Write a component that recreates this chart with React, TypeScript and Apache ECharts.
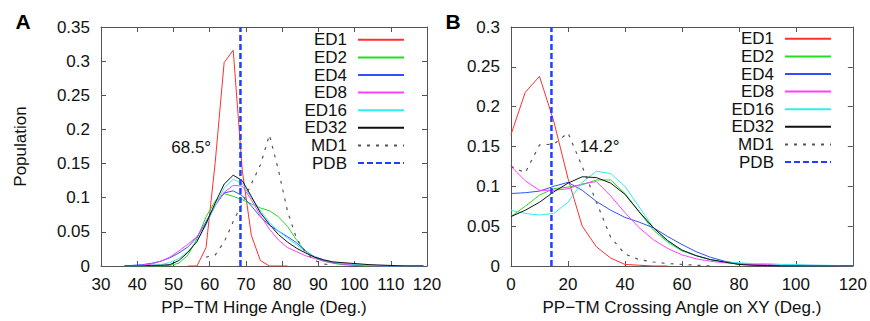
import React, { useEffect, useRef } from "react";
import * as echarts from "echarts";

// ---------- Panel A: PP-TM hinge angle ----------
const anglesA = [36.5, 39, 41.5, 44, 46.5, 49, 51.5, 54, 56.5, 59, 61.5, 64, 66.5, 69, 71.5, 74, 76.5, 79, 81.5, 84, 86.5, 89, 91.5, 94, 96.5, 99, 101.5, 104, 106.5, 109, 111.5, 114, 116.5, 119];
const ed1A = [null, null, null, null, null, null, null, 0, 0, 0.027, 0.15, 0.298, 0.316, 0.14, 0.045, 0.008, 0, 0, 0, null, null, null, null, null, null, null, null, null, null, null, null, null, null, null];
const ed2A = [0, 0, 0, 0, 0, 0.001, 0.004, 0.016, 0.04, 0.072, 0.095, 0.106, 0.102, 0.097, 0.091, 0.085, 0.081, 0.072, 0.058, 0.038, 0.021, 0.012, 0.007, 0.004, 0.002, 0.001, 0.0005, 0, 0, 0, 0, 0, 0, 0];
const ed4A = [0, 0.001, 0.002, 0.004, 0.007, 0.012, 0.019, 0.028, 0.042, 0.065, 0.089, 0.107, 0.11, 0.103, 0.088, 0.072, 0.06, 0.051, 0.043, 0.034, 0.022, 0.013, 0.008, 0.005, 0.003, 0.002, 0.001, 0.0005, 0, 0, 0, 0, 0, 0];
const ed8A = [0, 0, 0.001, 0.003, 0.007, 0.013, 0.022, 0.032, 0.043, 0.063, 0.088, 0.108, 0.118, 0.117, 0.097, 0.074, 0.054, 0.038, 0.027, 0.021, 0.015, 0.011, 0.007, 0.005, 0.003, 0.002, 0.001, 0.0005, 0, 0, 0, 0, 0, 0];
const ed16A = [0, 0, 0, 0.001, 0.002, 0.005, 0.011, 0.021, 0.036, 0.06, 0.088, 0.114, 0.127, 0.121, 0.1, 0.081, 0.064, 0.051, 0.041, 0.031, 0.021, 0.014, 0.009, 0.006, 0.004, 0.003, 0.002, 0.001, 0.0005, 0, 0, 0, 0, 0];
const ed32A = [0, 0, 0, 0.001, 0.001, 0.002, 0.008, 0.02, 0.036, 0.062, 0.092, 0.12, 0.133, 0.125, 0.102, 0.078, 0.061, 0.046, 0.035, 0.026, 0.019, 0.013, 0.009, 0.006, 0.005, 0.004, 0.003, 0.002, 0.0015, 0.001, 0.0005, 0, 0, 0];
const md1A = [null, null, null, null, null, null, null, null, null, 0.013, 0.016, 0.035, 0.065, 0.092, 0.12, 0.148, 0.192, 0.14, 0.08, 0.04, 0.02, 0.008, 0.003, 0.001, null, null, null, null, null, null, null, null, null, null];
const pdbA = 68.5;
const pdbLabelA = "68.5°";

// ---------- Panel B: PP-TM crossing angle on XY ----------
const anglesB = [0, 5, 10, 15, 20, 25, 30, 35, 40, 45, 50, 55, 60, 65, 70, 75, 80, 85, 90, 95, 100, 105, 110, 115, 120];
const ed1B = [0.165, 0.218, 0.238, 0.182, 0.11, 0.05, 0.024, 0.01, 0.002, 0.001, 0, 0, null, null, null, null, null, null, null, null, null, null, null, null, null];
const ed2B = [0.062, 0.075, 0.089, 0.097, 0.099, 0.102, 0.108, 0.108, 0.091, 0.068, 0.045, 0.03, 0.019, 0.013, 0.008, 0.005, 0.002, 0.001, 0.001, 0.0005, 0, 0, 0, 0, 0];
const ed4B = [0.091, 0.092, 0.094, 0.1, 0.105, 0.095, 0.081, 0.07, 0.061, 0.055, 0.048, 0.037, 0.027, 0.018, 0.011, 0.006, 0.003, 0.002, 0.001, 0.0005, 0, 0, 0, 0, 0];
const ed8B = [0.125, 0.107, 0.095, 0.095, 0.097, 0.103, 0.106, 0.088, 0.067, 0.048, 0.033, 0.022, 0.014, 0.009, 0.006, 0.004, 0.003, 0.002, 0.002, 0.001, 0.001, 0.001, 0.0005, 0, 0];
const ed16B = [0.07, 0.066, 0.064, 0.066, 0.08, 0.105, 0.119, 0.116, 0.1, 0.074, 0.048, 0.031, 0.02, 0.013, 0.008, 0.005, 0.004, 0.003, 0.003, 0.002, 0.002, 0.001, 0.001, 0.0005, 0];
const ed32B = [0.062, 0.07, 0.08, 0.093, 0.104, 0.112, 0.111, 0.104, 0.09, 0.068, 0.048, 0.032, 0.02, 0.013, 0.008, 0.005, 0.002, 0.001, 0.0005, 0, 0, 0, 0, 0, 0];
const md1B = [0.125, 0.117, 0.152, 0.153, 0.167, 0.125, 0.08, 0.036, 0.015, 0.008, 0.005, 0.003, 0.002, 0.001, 0, null, null, null, null, null, null, null, null, null, null];
const pdbB = 14.2;
const pdbLabelB = "14.2°";

const seriesNames = ["ED1", "ED2", "ED4", "ED8", "ED16", "ED32", "MD1", "PDB"];
const colors = ["#ff3030", "#22dd22", "#3050ff", "#ff40ff", "#30eeee", "#111111", "#555555", "#1f3fff"];

const FONT = "'Liberation Sans', Arial, Helvetica, sans-serif";
const AXIS_COLOR = "#555";

function pairs(xs: number[], ys: (number | null)[]) {
  return xs.map((x, i) => [x, ys[i] === null ? null : ys[i]]);
}

function buildSeries(
  axisIdx: number,
  xs: number[],
  sets: (number | null)[][],
  pdb: number,
  yMax: number,
  label: string,
  labelCoord: number[]
) {
  const out: any[] = [];
  sets.forEach((vals, i) => {
    const isMD = i === 6;
    out.push({
      type: "line",
      name: seriesNames[i],
      xAxisIndex: axisIdx,
      yAxisIndex: axisIdx,
      data: pairs(xs, vals),
      symbol: "none",
      connectNulls: false,
      lineStyle: {
        color: colors[i],
        width: isMD ? 1.2 : 1,
        type: isMD ? [3, 6] : "solid",
      },
      itemStyle: { color: colors[i] },
      z: 2 + i,
    });
  });
  out.push({
    type: "line",
    name: "PDB",
    xAxisIndex: axisIdx,
    yAxisIndex: axisIdx,
    data: [
      [pdb, 0],
      [pdb, yMax],
    ],
    symbol: "none",
    lineStyle: { color: colors[7], width: 2.5, type: [6, 3] },
    itemStyle: { color: colors[7] },
    z: 12,
    markPoint: {
      symbol: "circle",
      symbolSize: 1,
      itemStyle: { color: "rgba(0,0,0,0)" },
      label: {
        show: true,
        position: "inside",
        formatter: label,
        fontSize: 17,
        fontFamily: FONT,
        color: "#111",
      },
      data: [{ coord: labelCoord }],
    },
  });
  return out;
}

function makeXAxis(gridIndex: number, min: number, max: number, interval: number, top: boolean, name?: string) {
  return {
    type: "value",
    gridIndex,
    position: top ? "top" : "bottom",
    min,
    max,
    interval,
    name: name || "",
    nameLocation: "middle",
    nameGap: 33,
    nameTextStyle: { fontSize: 17, fontFamily: FONT, color: "#111" },
    axisLine: { show: true, onZero: false, lineStyle: { color: AXIS_COLOR, width: 1 } },
    axisTick: { show: true, inside: true, length: 5, lineStyle: { color: AXIS_COLOR } },
    axisLabel: { show: !top, fontSize: 17, fontFamily: FONT, color: "#111", margin: 10 },
    splitLine: { show: false },
  };
}

function makeYAxis(gridIndex: number, min: number, max: number, interval: number, right: boolean, name?: string) {
  return {
    type: "value",
    gridIndex,
    position: right ? "right" : "left",
    min,
    max,
    interval,
    name: name || "",
    nameLocation: "middle",
    nameRotate: 90,
    nameGap: 72,
    nameTextStyle: { fontSize: 17, fontFamily: FONT, color: "#111" },
    axisLine: { show: true, onZero: false, lineStyle: { color: AXIS_COLOR, width: 1 } },
    axisTick: { show: true, inside: true, length: 5, lineStyle: { color: AXIS_COLOR } },
    axisLabel: { show: !right, fontSize: 17, fontFamily: FONT, color: "#111", margin: 11 },
    splitLine: { show: false },
  };
}

function makeLegend(right: number, top: number) {
  return {
    orient: "vertical",
    right,
    top,
    padding: 0,
    itemGap: 0,
    itemWidth: 46,
    itemHeight: 14,
    align: "right",
    selectedMode: false,
    data: seriesNames,
    itemStyle: { opacity: 0 },
    textStyle: {
      fontSize: 17,
      fontFamily: FONT,
      color: "#111",
      lineHeight: 17.6,
      padding: [0, 6, 0, 0],
    },
  };
}

export default function App() {
  const ref = useRef<HTMLDivElement>(null);
  useEffect(() => {
    if (!ref.current) return;
    const chart = echarts.init(ref.current, undefined, { renderer: "svg" });
    const option: any = {
      animation: false,
      backgroundColor: "#fff",
      textStyle: { fontFamily: FONT },
      grid: [
        { left: 101, top: 27, width: 326, height: 240, containLabel: false },
        { left: 511, top: 27, width: 343, height: 240, containLabel: false },
      ],
      xAxis: [
        makeXAxis(0, 30, 120, 10, false, "PP\u2212TM Hinge Angle (Deg.)"),
        makeXAxis(0, 30, 120, 10, true),
        makeXAxis(1, 0, 120, 20, false, "PP\u2212TM Crossing Angle on XY (Deg.)"),
        makeXAxis(1, 0, 120, 20, true),
      ],
      yAxis: [
        makeYAxis(0, 0, 0.35, 0.05, false, "Population"),
        makeYAxis(0, 0, 0.35, 0.05, true),
        makeYAxis(1, 0, 0.3, 0.05, false),
        makeYAxis(1, 0, 0.3, 0.05, true),
      ],
      legend: [makeLegend(465, 31), makeLegend(38, 30)],
      series: [
        ...buildSeries(0, anglesA, [ed1A, ed2A, ed4A, ed8A, ed16A, ed32A, md1A], pdbA, 0.35, pdbLabelA, [54.9, 0.1735]),
        ...buildSeries(2, anglesB, [ed1B, ed2B, ed4B, ed8B, ed16B, ed32B, md1B], pdbB, 0.3, pdbLabelB, [31.1, 0.15]),
      ],
      graphic: [
        {
          type: "text",
          x: 23,
          y: 21.5,
          style: { text: "A", align: "center", verticalAlign: "middle", font: "bold 21px " + FONT, fill: "#000" },
        },
        {
          type: "text",
          x: 453,
          y: 21,
          style: { text: "B", align: "center", verticalAlign: "middle", font: "bold 21px " + FONT, fill: "#000" },
        },
      ],
    };
    chart.setOption(option);
    return () => chart.dispose();
  }, []);
  return <div ref={ref} style={{ position: "fixed", left: 0, top: 0, width: 870, height: 321 }} />;
}
